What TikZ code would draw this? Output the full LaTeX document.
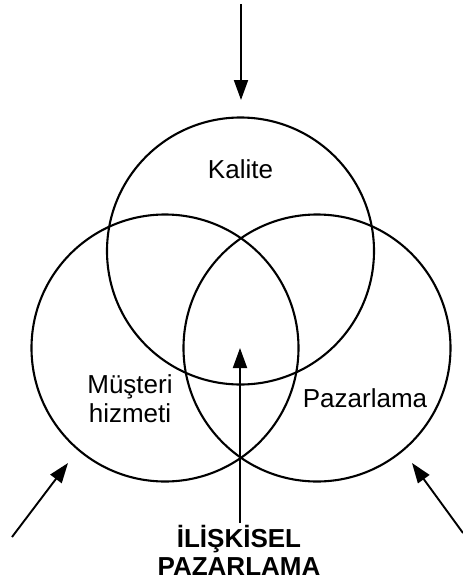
\documentclass[tikz,border=0pt]{standalone}
\usepackage{fontspec}
\setmainfont{Liberation Sans}
\usetikzlibrary{arrows.meta}
\begin{document}
\begin{tikzpicture}[x=1pt,y=-1pt,
  ring/.style={draw,circle,line width=2.1pt,minimum size=267pt,inner sep=0pt},
  lbl/.style={anchor=base,inner sep=0pt,font=\fontsize{26}{30}\selectfont},
  blbl/.style={anchor=base,inner sep=0pt,font=\fontsize{26}{30}\selectfont\bfseries},
  arr/.style={line width=1.9pt,-{Triangle[length=20pt,width=14pt]}}]
\useasboundingbox (0,0) rectangle (463,582);
\node[ring] (top) at (240.5,251) {};
\node[ring] (left) at (165,348) {};
\node[ring] (right) at (317,348) {};
\node[lbl] (kalite) at (240.5,178) {Kalite};
\node[lbl] (mus1) at (130,393) {Müşteri};
\node[lbl] (mus2) at (130,422) {hizmeti};
\node[lbl] (paz) at (365,407) {Pazarlama};
\node[blbl] (ilis) at (239,547) {İLİŞKİSEL};
\node[blbl] (pazb) at (239,575) {PAZARLAMA};
\coordinate (ts) at (241,4);
\coordinate (tt) at (241,100);
\coordinate (ls) at (12,537);
\coordinate (lt) at (68,463);
\coordinate (rs) at (463,533);
\coordinate (rt) at (412,463);
\coordinate (cs) at (240,523);
\coordinate (ct) at (240,348);
\draw[arr] (ts) -- (tt);
\draw[arr] (ls) -- (lt);
\draw[arr] (rs) -- (rt);
\draw[arr] (cs) -- (ct);
\end{tikzpicture}
\end{document}
